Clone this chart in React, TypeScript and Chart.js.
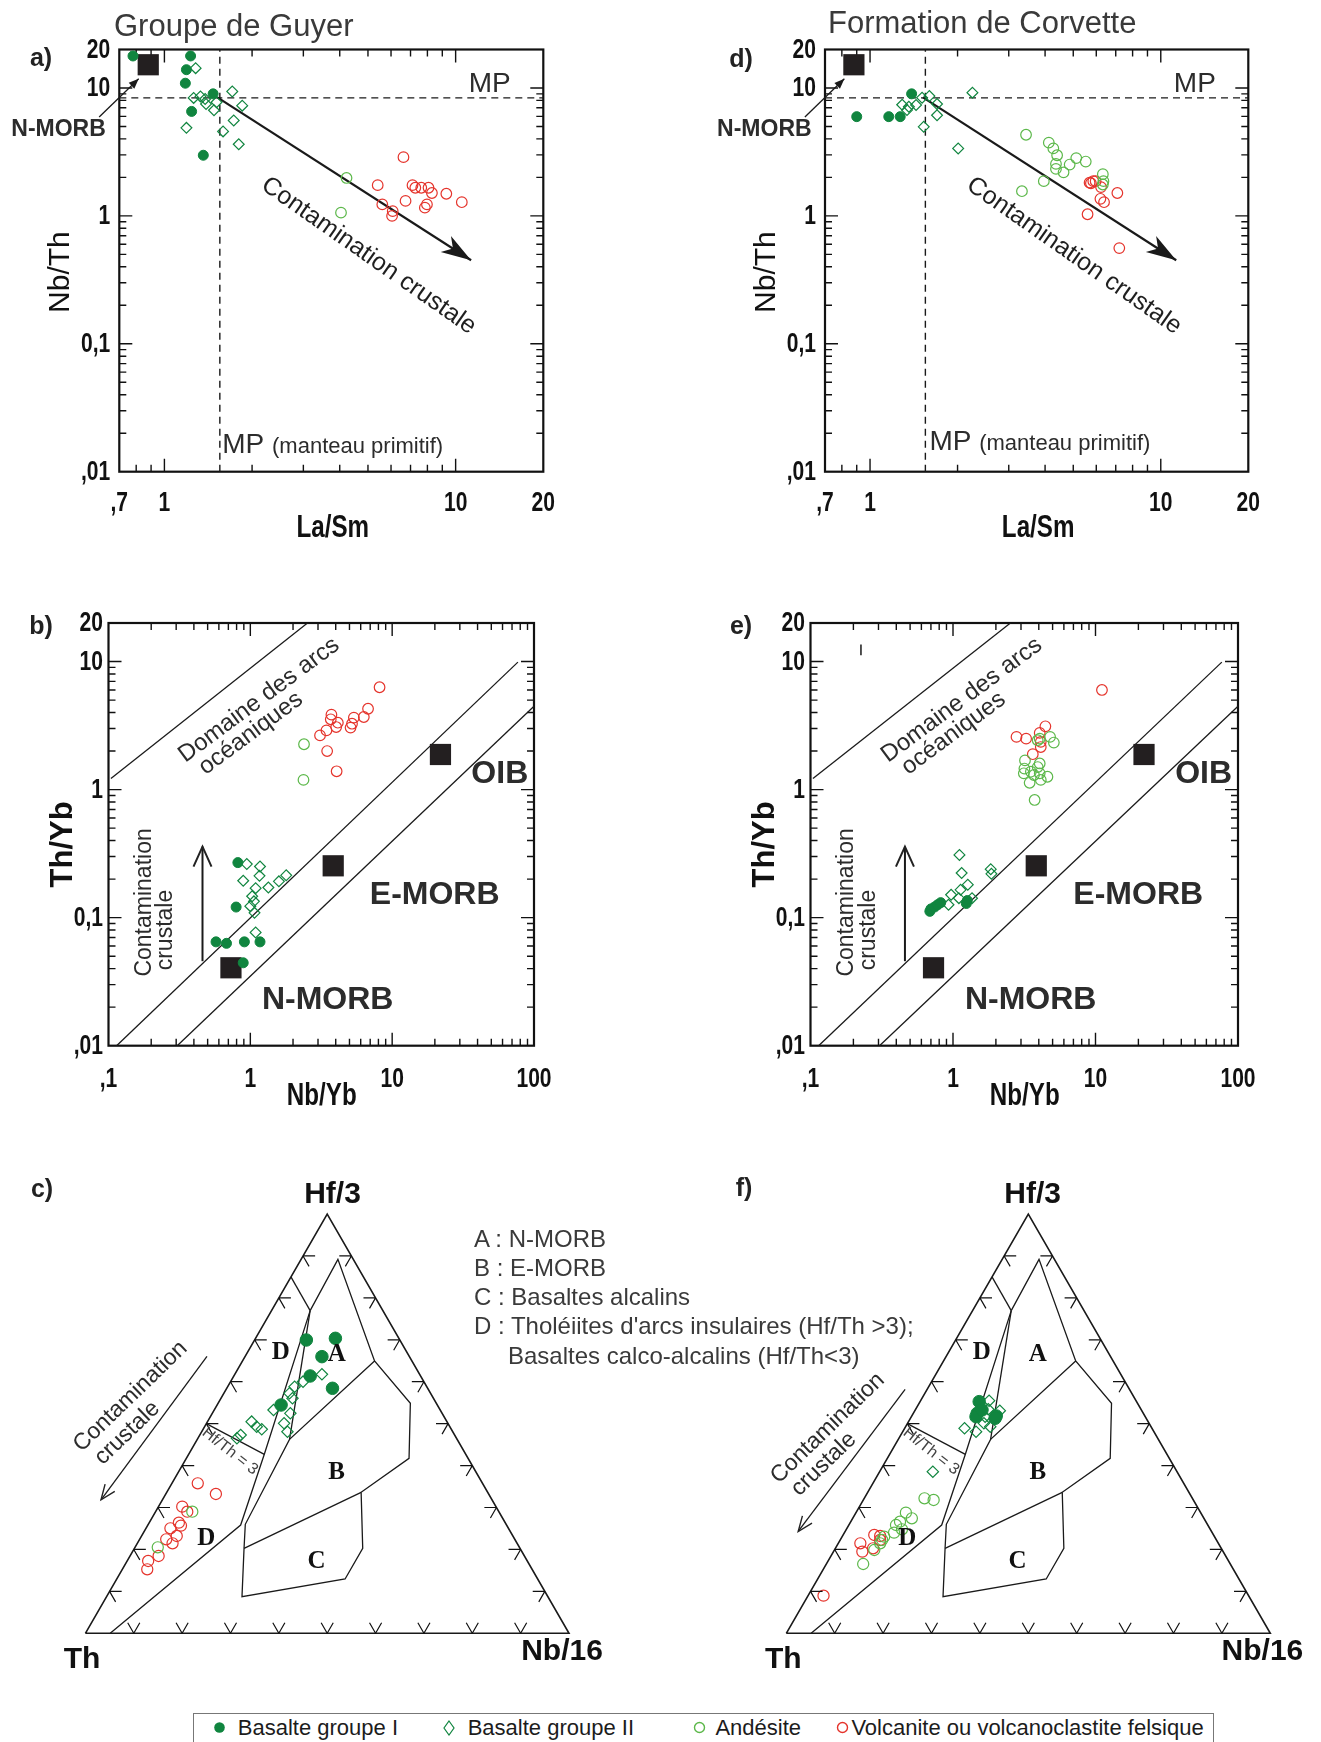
import React, { useEffect, useRef } from 'react';
import { Chart, registerables } from 'chart.js';

Chart.register(...registerables);

type P = [number, number];

const FONT = '"Liberation Sans", Arial, Helvetica, sans-serif';
const SERIF = '"Liberation Serif", "Times New Roman", serif';

const GREEN_DARK = '#10853f';
const GREEN_LIGHT = '#5cb84a';
const RED = '#e5342c';
const SQUARE = '#231f20';
const INK = '#2c2c2c';

// ================= Axis ticks =================
const laSmTicks = [0.7, 1, 10, 20];
const laSmTickLabels = [',7', '1', '10', '20'];
const ratioTicks = [0.01, 0.1, 1, 10, 20];
const ratioTickLabels = [',01', '0,1', '1', '10', '20'];
const nbYbTicks = [0.1, 1, 10, 100];
const nbYbTickLabels = [',1', '1', '10', '100'];

// ================= Reference compositions / guide lines =================
const primitiveMantleLaSm = 1.55;
const primitiveMantleNbTh = 8.37;
const nmorbLaSmNbTh: P[] = [[0.88, 15.2]];
const mantleArrayRefs: P[] = [[0.73, 0.0406], [3.84, 0.254], [21.9, 1.88]]; // N-MORB, E-MORB, OIB
const arcDomainLine: P[] = [[0.104, 1.22], [2.53, 20]];
const morbOibUpperLine: P[] = [[0.114, 0.01], [77, 9.9]];
const morbOibLowerLine: P[] = [[0.305, 0.01], [100, 4.47]];
const laSmContamArrow: P[] = [[1.52, 8.45], [11.3, 0.45]];
const nbYbContamArrow: P[] = [[0.46, 0.0457], [0.46, 0.359]];
const nmorbPointer: P[] = [[0.597, 5.94], [0.816, 11.8]];
const strayMarkE: P[] = [[0.226, 13.6], [0.226, 11.2]];

// ================= a) Groupe de Guyer : La/Sm vs Nb/Th =================
const guyerLaSmNbThG1: P[] = [[0.78, 17.8], [1.23, 17.8], [1.19, 13.9], [1.18, 10.9], [1.47, 9.0], [1.24, 6.56], [1.36, 2.98]];
const guyerLaSmNbThG2: P[] = [[1.28, 14.3], [1.71, 9.4], [1.26, 8.37], [1.33, 8.6], [1.39, 7.5], [1.38, 8.2], [1.48, 6.7], [1.51, 7.74], [1.85, 7.28], [1.73, 5.58], [1.19, 4.88], [1.59, 4.58], [1.8, 3.63]];
const guyerLaSmNbThAnd: P[] = [[4.22, 1.98], [4.04, 1.06]];
const guyerLaSmNbThFel: P[] = [[6.62, 2.88], [5.4, 1.74], [5.6, 1.23], [6.08, 1.09], [6.05, 1.0], [6.73, 1.31], [7.11, 1.74], [7.27, 1.66], [7.62, 1.66], [8.07, 1.66], [8.29, 1.51], [7.97, 1.23], [7.84, 1.16], [9.29, 1.49], [10.5, 1.28]];

// ================= d) Formation de Corvette : La/Sm vs Nb/Th =================
const corvLaSmNbThG1: P[] = [[0.9, 5.97], [1.16, 5.97], [1.27, 5.97], [1.39, 9.0]];
const corvLaSmNbThG2: P[] = [[2.25, 9.2], [1.51, 8.4], [1.6, 8.65], [1.29, 7.4], [1.36, 7.14], [1.34, 6.72], [1.44, 7.36], [1.7, 7.5], [1.7, 6.12], [1.53, 4.97], [2.01, 3.37]];
const corvLaSmNbThAnd: P[] = [[3.44, 4.31], [4.12, 3.74], [4.27, 3.37], [4.4, 2.98], [4.36, 2.55], [4.36, 2.33], [4.63, 2.19], [4.86, 2.52], [5.12, 2.83], [5.52, 2.66], [3.96, 1.87], [3.33, 1.56], [6.32, 2.12], [6.35, 1.87], [6.32, 1.76]];
const corvLaSmNbThFel: P[] = [[5.69, 1.82], [5.86, 1.87], [5.97, 1.87], [5.75, 1.8], [6.23, 1.68], [6.2, 1.36], [6.38, 1.28], [7.09, 1.51], [5.6, 1.03], [7.2, 0.56]];

// ================= b) Groupe de Guyer : Nb/Yb vs Th/Yb =================
const guyerNbYbThYbG1: P[] = [[0.817, 0.269], [0.794, 0.121], [0.573, 0.0647], [0.679, 0.063], [0.908, 0.0647], [1.17, 0.0647], [0.891, 0.0444]];
const guyerNbYbThYbG2: P[] = [[0.944, 0.262], [1.17, 0.251], [0.891, 0.194], [1.16, 0.212], [1.09, 0.17], [1.34, 0.172], [1.59, 0.192], [1.79, 0.214], [1.03, 0.147], [1.06, 0.134], [1.0, 0.123], [1.07, 0.109], [1.09, 0.0767]];
const guyerNbYbThYbAnd: P[] = [[2.39, 2.26], [2.37, 1.19]];
const guyerNbYbThYbFel: P[] = [[8.15, 6.3], [6.76, 4.28], [6.31, 3.69], [5.37, 3.65], [5.21, 3.27], [5.09, 3.05], [3.73, 3.85], [3.69, 3.54], [4.14, 3.33], [4.03, 3.08], [3.44, 2.9], [3.1, 2.65], [3.48, 2.0], [4.06, 1.39]];

// ================= e) Formation de Corvette : Nb/Yb vs Th/Yb =================
const corvNbYbThYbG1: P[] = [[0.688, 0.112], [0.7, 0.117], [0.742, 0.121], [0.78, 0.126], [0.82, 0.131], [1.26, 0.136], [1.24, 0.129]];
const corvNbYbThYbG2: P[] = [[1.11, 0.309], [1.15, 0.223], [1.27, 0.181], [1.84, 0.239], [1.86, 0.22], [0.97, 0.151], [0.93, 0.126], [1.13, 0.165], [1.36, 0.142], [1.1, 0.142]];
const corvNbYbThYbAnd: P[] = [[4.8, 2.58], [5.1, 2.33], [4.06, 2.5], [4.06, 1.6], [3.2, 1.69], [3.17, 1.46], [3.14, 1.34], [3.52, 1.38], [3.7, 1.3], [3.93, 1.5], [4.06, 1.34], [4.6, 1.26], [4.13, 1.19], [3.45, 1.13], [3.74, 0.83], [3.93, 2.43]];
const corvNbYbThYbFel: P[] = [[11.1, 6.0], [2.79, 2.58], [3.26, 2.5], [4.45, 3.12], [4.06, 2.77], [4.13, 2.36], [4.13, 2.15], [3.63, 1.89]];

// ================= Ternary Th - Hf/3 - Nb/16 : entries are [Hf/3, Nb/16] fractions =================
const ternTickFractions = [0.1, 0.2, 0.3, 0.4, 0.5, 0.6, 0.7, 0.8, 0.9];
const ternTriangle: P[] = [[0, 0], [0, 1], [1, 0], [0, 0]];
const ternFieldOutline: P[] = [[0.7695, 0.08], [0.8919, 0.0762], [0.6494, 0.2732], [0.5485, 0.3977], [0.4173, 0.4606], [0.3363, 0.402], [0.2027, 0.4721], [0.1296, 0.4722], [0.0874, 0.2801], [0.2027, 0.2267], [0.2599, 0.2007], [0.4626, 0.1908], [0.6494, 0.2732]];
const ternTopLeftLine: P[] = [[0.85, 0], [0.7695, 0.08]];
const ternALeftLine: P[] = [[0.7695, 0.08], [0.4626, 0.1908]];
const ternDLine: P[] = [[0.7695, 0.08], [0.4269, 0.1565], [0.2583, 0.1919], [0, 0.0513]];
const ternBCLine: P[] = [[0.3363, 0.402], [0.2027, 0.2267]];
const ternHfTh3Line: P[] = [[0.5, 0], [0.4269, 0.1565]];

const guyerTernG1: P[] = [[0.6995, 0.1071], [0.7035, 0.1652], [0.6598, 0.1592], [0.6137, 0.158], [0.5843, 0.2188], [0.5445, 0.1324]];
const guyerTernG2: P[] = [[0.6176, 0.1803], [0.6002, 0.1499], [0.5882, 0.1385], [0.5723, 0.1359], [0.5604, 0.148], [0.5326, 0.1227], [0.5246, 0.1615], [0.5048, 0.0914], [0.5008, 0.1604], [0.4928, 0.1078], [0.4865, 0.1214], [0.4809, 0.1774], [0.473, 0.0846], [0.465, 0.0808]];
const guyerTernAnd: P[] = [[0.2901, 0.076], [0.2051, 0.0471]];
const guyerTernFel: P[] = [[0.3577, 0.0535], [0.3323, 0.1037], [0.3021, 0.0492], [0.2901, 0.0656], [0.2639, 0.0613], [0.2568, 0.0692], [0.2504, 0.0506], [0.2321, 0.0728], [0.2242, 0.055], [0.2146, 0.0729], [0.1844, 0.0592], [0.1725, 0.0435], [0.1526, 0.0516]];

const corvTernG1: P[] = [[0.5525, 0.1223], [0.5246, 0.1321], [0.5167, 0.1336], [0.5326, 0.138], [0.5183, 0.1746], [0.5127, 0.175]];
const corvTernG2: P[] = [[0.5548, 0.1416], [0.5342, 0.1502], [0.531, 0.1756], [0.5167, 0.1525], [0.5008, 0.1579], [0.4928, 0.175], [0.4889, 0.1238], [0.4809, 0.1516], [0.3855, 0.11]];
const corvTernAnd: P[] = [[0.3219, 0.1246], [0.318, 0.1454], [0.2878, 0.1032], [0.2742, 0.1223], [0.2663, 0.1018], [0.2583, 0.0975], [0.248, 0.115], [0.2401, 0.1026], [0.2305, 0.0869], [0.2146, 0.0866], [0.1987, 0.0824], [0.1653, 0.0762], [0.2226, 0.0867]];
const corvTernFel: P[] = [[0.2345, 0.0645], [0.2321, 0.0779], [0.2146, 0.0457], [0.1948, 0.0597], [0.2027, 0.0779], [0.2226, 0.0826], [0.0898, 0.032]];

// contamination arrows in ternary plot (plot x, y) coordinates
const guyerTernArrow: P[] = [[0.2514, 0.572], [0.0323, 0.2757]];
const corvTernArrow: P[] = [[0.2455, 0.504], [0.0246, 0.2103]];

// ================= helpers =================
const SQ = Math.sqrt(3) / 2;
const pts = (arr: P[]) => arr.map(([x, y]) => ({ x, y }));
const toXY = (arr: P[]): P[] => arr.map(([hf, nb]) => [nb + hf / 2, hf * SQ]);

const MARKERS: any = {
  g1: { style: 'circle', r: 5, fill: GREEN_DARK, stroke: GREEN_DARK, bw: 1 },
  g2: { style: 'rectRot', r: 5.4, fill: 'rgba(0,0,0,0)', stroke: GREEN_DARK, bw: 1.2 },
  and: { style: 'circle', r: 5.3, fill: 'rgba(0,0,0,0)', stroke: GREEN_LIGHT, bw: 1.2 },
  fel: { style: 'circle', r: 5.3, fill: 'rgba(0,0,0,0)', stroke: RED, bw: 1.2 },
  ref: { style: 'rect', r: 15, fill: SQUARE, stroke: SQUARE, bw: 0 },
};

function markerSet(arr: P[], kind: string, rScale = 1) {
  const s = MARKERS[kind];
  return {
    data: pts(arr), showLine: false, clip: false,
    pointStyle: s.style, pointRadius: s.r * rScale, pointHoverRadius: s.r * rScale,
    pointBackgroundColor: s.fill, pointBorderColor: s.stroke, pointBorderWidth: s.bw,
    backgroundColor: s.fill, borderColor: s.stroke,
  };
}

function lineSet(arr: P[], width = 1.3, dash: number[] = [], color = '#1a1a1a') {
  return {
    data: pts(arr), showLine: true, clip: false, pointRadius: 0, pointHoverRadius: 0,
    borderColor: color, backgroundColor: color, borderWidth: width, borderDash: dash, fill: false, tension: 0,
  };
}

function mkAt(chart: any) {
  const xs = chart.scales.x, ys = chart.scales.y;
  return (p: P): P => [xs.getPixelForValue(p[0]), ys.getPixelForValue(p[1])];
}

function text(ctx: any, s: string, p: P, font: string, o: any = {}) {
  ctx.save();
  ctx.translate(p[0], p[1]);
  if (o.rot) ctx.rotate((o.rot * Math.PI) / 180);
  if (o.sx) ctx.scale(o.sx, 1);
  ctx.font = font;
  ctx.fillStyle = o.color || INK;
  ctx.textAlign = o.align || 'center';
  ctx.textBaseline = o.baseline || 'middle';
  ctx.fillText(s, 0, 0);
  ctx.restore();
}

function arrowHead(ctx: any, from: P, to: P, len: number, half: number, style: string, color: string, lw = 1.5) {
  const ang = Math.atan2(to[1] - from[1], to[0] - from[0]);
  const ux = Math.cos(ang), uy = Math.sin(ang);
  const bx = to[0] - ux * len, by = to[1] - uy * len;
  const lx = bx - uy * half, ly = by + ux * half;
  const rx = bx + uy * half, ry = by - ux * half;
  ctx.save();
  ctx.fillStyle = color; ctx.strokeStyle = color; ctx.lineWidth = lw; ctx.lineJoin = 'miter';
  ctx.beginPath();
  if (style === 'open') {
    ctx.moveTo(lx, ly); ctx.lineTo(to[0], to[1]); ctx.lineTo(rx, ry); ctx.stroke();
  } else {
    ctx.moveTo(to[0], to[1]); ctx.lineTo(lx, ly);
    if (style === 'stealth') ctx.lineTo(to[0] - ux * len * 0.72, to[1] - uy * len * 0.72);
    ctx.lineTo(rx, ry); ctx.closePath(); ctx.fill();
  }
  ctx.restore();
}

function logDecades(min: number, max: number) {
  const out: { v: number; major: boolean }[] = [];
  for (let e = Math.floor(Math.log10(min)) - 1; e <= Math.ceil(Math.log10(max)); e++) {
    for (let m = 1; m < 10; m++) {
      const v = m * Math.pow(10, e);
      if (v > min * 1.001 && v < max * 0.999) out.push({ v, major: m === 1 });
    }
  }
  return out;
}

const TICK_FONT = `bold 27px ${FONT}`;
const COND = 0.78;

function logFrame(chart: any, s: any) {
  const { ctx, chartArea: a } = chart;
  const xs = chart.scales.x, ys = chart.scales.y;
  ctx.save();
  ctx.strokeStyle = '#111';
  ctx.lineWidth = 1.4;
  ctx.beginPath();
  for (const t of logDecades(xs.min, xs.max)) {
    const p = xs.getPixelForValue(t.v); const L = t.major ? 13 : 7;
    ctx.moveTo(p, a.bottom); ctx.lineTo(p, a.bottom - L);
    ctx.moveTo(p, a.top); ctx.lineTo(p, a.top + L);
  }
  for (const t of logDecades(ys.min, ys.max)) {
    const p = ys.getPixelForValue(t.v); const L = t.major ? 13 : 7;
    ctx.moveTo(a.left, p); ctx.lineTo(a.left + L, p);
    ctx.moveTo(a.right, p); ctx.lineTo(a.right - L, p);
  }
  ctx.stroke();
  ctx.lineWidth = 2.2;
  ctx.strokeRect(a.left, a.top, a.right - a.left, a.bottom - a.top);
  ctx.restore();
  // tick labels, positioned by the library's scales
  s.x.ticks.forEach((v: number, i: number) =>
    text(ctx, s.x.labels[i], [xs.getPixelForValue(v), a.bottom + s.x.off], TICK_FONT, { sx: COND, color: '#111' }));
  s.y.ticks.forEach((v: number, i: number) =>
    text(ctx, s.y.labels[i], [a.left - s.y.pad, ys.getPixelForValue(v) + 1], TICK_FONT, { sx: COND, align: 'right', color: '#111' }));
}

// ================= Log panel config =================
function logConfig(s: any) {
  const yW = s.area.left - s.canvas.left;
  const xH = s.canvas.top + s.canvas.height - s.area.bottom;
  return {
    type: 'scatter',
    data: { datasets: s.datasets },
    options: {
      responsive: false, maintainAspectRatio: false, animation: false, devicePixelRatio: 1, events: [],
      layout: { padding: { left: 0, bottom: 0, top: s.area.top - s.canvas.top, right: s.canvas.left + s.canvas.width - s.area.right } },
      plugins: { legend: { display: false }, tooltip: { enabled: false }, title: { display: false } },
      scales: {
        x: {
          type: 'logarithmic', position: 'bottom', min: s.x.min, max: s.x.max, bounds: 'data',
          grid: { display: false, drawTicks: false }, border: { display: false },
          afterBuildTicks: (sc: any) => { sc.ticks = s.x.ticks.map((v: number) => ({ value: v })); },
          afterFit: (sc: any) => { sc.height = xH; },
          ticks: { display: false },
        },
        y: {
          type: 'logarithmic', position: 'left', min: s.y.min, max: s.y.max, bounds: 'data',
          grid: { display: false, drawTicks: false }, border: { display: false },
          afterBuildTicks: (sc: any) => { sc.ticks = s.y.ticks.map((v: number) => ({ value: v })); },
          afterFit: (sc: any) => { sc.width = yW; },
          ticks: { display: false },
        },
      },
    },
    plugins: [{ id: 'deco', beforeDatasetsDraw: (c: any) => logFrame(c, s), afterDatasetsDraw: (c: any) => s.deco(c) }],
  };
}

function laSmDeco(mpBottom: P) {
  return (chart: any) => {
    const { ctx, chartArea: a } = chart;
    const at = mkAt(chart);
    const [cs, ce] = laSmContamArrow.map((p) => at(p));
    arrowHead(ctx, cs, ce, 30, 9.5, 'stealth', '#1a1a1a');
    const [ps, pe] = nmorbPointer.map((p) => at(p));
    arrowHead(ctx, ps, pe, 10, 4, 'filled', '#1a1a1a');
    text(ctx, 'MP', at([13.1, 10.6]), `28px ${FONT}`);
    const mb = at(mpBottom);
    text(ctx, 'MP', mb, `28px ${FONT}`, { align: 'left', baseline: 'alphabetic' });
    ctx.save(); ctx.font = `28px ${FONT}`; const w = ctx.measureText('MP ').width; ctx.restore();
    text(ctx, '(manteau primitif)', [mb[0] + w, mb[1]], `22px ${FONT}`, { align: 'left', baseline: 'alphabetic' });
    text(ctx, 'N-MORB', at([0.433, 4.7]), `bold 23px ${FONT}`);
    text(ctx, 'Contamination crustale', at([5.03, 0.487]), `25px ${FONT}`, { rot: 35, color: '#1f1f1f' });
    text(ctx, 'La/Sm', [(a.left + a.right) / 2 + 1.5, a.bottom + 57], `bold 31px ${FONT}`, { color: '#111', sx: 0.78 });
    text(ctx, 'Nb/Th', [a.left - 58.3, (a.top + a.bottom) / 2 + 11.5], `30px ${FONT}`, { rot: -90, color: '#111' });
  };
}

function nbYbDeco(chart: any) {
  const { ctx, chartArea: a } = chart;
  const at = mkAt(chart);
  const [s, e] = nbYbContamArrow.map((p) => at(p));
  arrowHead(ctx, s, e, 20, 9, 'open', '#222', 2);
  text(ctx, 'Contamination', at([0.18, 0.1315]), `23px ${FONT}`, { rot: -90 });
  text(ctx, 'crustale', at([0.2545, 0.08]), `23px ${FONT}`, { rot: -90 });
  text(ctx, 'Domaine des arcs', at([1.152, 5.0]), `24px ${FONT}`, { rot: -36.5 });
  text(ctx, 'océaniques', at([1.01, 2.75]), `24px ${FONT}`, { rot: -36.5 });
  text(ctx, 'OIB', at([57.4, 1.31]), `bold 32px ${FONT}`);
  text(ctx, 'E-MORB', at([19.95, 0.151]), `bold 32px ${FONT}`);
  text(ctx, 'N-MORB', at([3.51, 0.0227]), `bold 32px ${FONT}`);
  text(ctx, 'Nb/Yb', [(a.left + a.right) / 2 + 0.5, a.bottom + 51], `bold 31px ${FONT}`, { color: '#111', sx: 0.78 });
  text(ctx, 'Th/Yb', [a.left - 45, (a.top + a.bottom) / 2 + 10], `bold 31px ${FONT}`, { rot: -90, color: '#111' });
}

function laSmDatasets(g1: P[], g2: P[], and: P[], fel: P[]) {
  return [
    markerSet(g1, 'g1'), markerSet(g2, 'g2'), markerSet(and, 'and'), markerSet(fel, 'fel'),
    markerSet(nmorbLaSmNbTh, 'ref'),
    lineSet(laSmContamArrow, 2.2),
    lineSet(nmorbPointer, 1.3),
    lineSet([[0.7, primitiveMantleNbTh], [20, primitiveMantleNbTh]], 1.4, [7, 5]),
    lineSet([[primitiveMantleLaSm, 0.01], [primitiveMantleLaSm, 20]], 1.4, [7, 5]),
  ];
}

function nbYbDatasets(g1: P[], g2: P[], and: P[], fel: P[], extra: any[] = []) {
  return [
    markerSet(g1, 'g1'), markerSet(g2, 'g2'), markerSet(and, 'and'), markerSet(fel, 'fel'),
    markerSet(mantleArrayRefs, 'ref'),
    lineSet(arcDomainLine, 1.3), lineSet(morbOibUpperLine, 1.3), lineSet(morbOibLowerLine, 1.3),
    lineSet(nbYbContamArrow, 2),
    ...extra,
  ];
}

const panelA = {
  canvas: { left: 0, top: 0, width: 660, height: 575 },
  area: { left: 119.3, top: 49.5, right: 543.3, bottom: 471.7 },
  x: { min: 0.7, max: 20, ticks: laSmTicks, labels: laSmTickLabels, off: 32 },
  y: { min: 0.01, max: 20, ticks: ratioTicks, labels: ratioTickLabels, pad: 9 },
  datasets: laSmDatasets(guyerLaSmNbThG1, guyerLaSmNbThG2, guyerLaSmNbThAnd, guyerLaSmNbThFel),
  deco: laSmDeco([1.58, 0.0141]),
};
const panelD = {
  canvas: { left: 660, top: 0, width: 661, height: 575 },
  area: { left: 825, top: 49.5, right: 1248.3, bottom: 471.7 },
  x: { min: 0.7, max: 20, ticks: laSmTicks, labels: laSmTickLabels, off: 32 },
  y: { min: 0.01, max: 20, ticks: ratioTicks, labels: ratioTickLabels, pad: 9 },
  datasets: laSmDatasets(corvLaSmNbThG1, corvLaSmNbThG2, corvLaSmNbThAnd, corvLaSmNbThFel),
  deco: laSmDeco([1.6, 0.0149]),
};
const panelB = {
  canvas: { left: 0, top: 575, width: 660, height: 560 },
  area: { left: 108.5, top: 623, right: 534, bottom: 1045.7 },
  x: { min: 0.1, max: 100, ticks: nbYbTicks, labels: nbYbTickLabels, off: 34 },
  y: { min: 0.01, max: 20, ticks: ratioTicks, labels: ratioTickLabels, pad: 5.5 },
  datasets: nbYbDatasets(guyerNbYbThYbG1, guyerNbYbThYbG2, guyerNbYbThYbAnd, guyerNbYbThYbFel),
  deco: nbYbDeco,
};
const panelE = {
  canvas: { left: 660, top: 575, width: 661, height: 560 },
  area: { left: 810.5, top: 623, right: 1238, bottom: 1045.7 },
  x: { min: 0.1, max: 100, ticks: nbYbTicks, labels: nbYbTickLabels, off: 34 },
  y: { min: 0.01, max: 20, ticks: ratioTicks, labels: ratioTickLabels, pad: 5.5 },
  datasets: nbYbDatasets(corvNbYbThYbG1, corvNbYbThYbG2, corvNbYbThYbAnd, corvNbYbThYbFel, [lineSet(strayMarkE, 1.5)]),
  deco: nbYbDeco,
};

// ================= Ternary panel config =================
function ternDeco(t: any) {
  return (chart: any) => {
    const ctx = chart.ctx;
    const at = mkAt(chart);
    const L = 0.025;
    ctx.save();
    ctx.strokeStyle = '#111'; ctx.lineWidth = 1.2; ctx.beginPath();
    const seg = (p: P, d: P) => {
      const a = at(p); const b = at([p[0] + d[0] * L, p[1] + d[1] * L]);
      ctx.moveTo(a[0], a[1]); ctx.lineTo(b[0], b[1]);
    };
    for (const f of ternTickFractions) {
      const left: P = [0.5 * f, SQ * f], right: P = [1 - 0.5 * f, SQ * f], bottom: P = [f, 0];
      seg(left, [1, 0]); seg(left, [0.5, -SQ]);
      seg(right, [-1, 0]); seg(right, [-0.5, -SQ]);
      seg(bottom, [-0.5, SQ]); seg(bottom, [0.5, SQ]);
    }
    ctx.stroke(); ctx.restore();
    const [s, e] = t.arrow.map((p: P) => at(p));
    arrowHead(ctx, s, e, 15, 6, 'open', '#222', 1.4);
    text(ctx, 'Hf/3', at(t.hfLabel), `bold 30px ${FONT}`, { color: '#111' });
    text(ctx, 'Th', at(t.thLabel), `bold 30px ${FONT}`, { color: '#111' });
    text(ctx, 'Nb/16', at(t.nbLabel), `bold 30px ${FONT}`, { color: '#111' });
    const lf = `bold 25px ${SERIF}`;
    text(ctx, 'D', at([0.404, 0.5803]), lf, { color: '#111' });
    text(ctx, 'A', at([0.5196, 0.5756]), lf, { color: '#111' });
    text(ctx, 'B', at([0.5196, 0.3322]), lf, { color: '#111' });
    text(ctx, 'C', at([0.4779, 0.1485]), lf, { color: '#111' });
    text(ctx, 'D', at([0.2498, 0.1961]), lf, { color: '#111' });
    text(ctx, 'Hf/Th = 3', at([0.299, 0.376]), `16px ${FONT}`, { rot: 38, color: '#444' });
    text(ctx, 'Contamination', at(t.contamText), `23px ${FONT}`, { rot: -44 });
    text(ctx, 'crustale', at(t.crustText), `23px ${FONT}`, { rot: -44 });
  };
}

function ternDatasets(g1: P[], g2: P[], and: P[], fel: P[], arrow: P[]) {
  return [
    markerSet(toXY(g1), 'g1', 1.25), markerSet(toXY(g2), 'g2', 1.05), markerSet(toXY(and), 'and', 1.05), markerSet(toXY(fel), 'fel', 1.05),
    lineSet(toXY(ternTriangle), 1.6),
    lineSet(toXY(ternFieldOutline), 1.3),
    lineSet(toXY(ternTopLeftLine), 1.3),
    lineSet(toXY(ternALeftLine), 1.3),
    lineSet(toXY(ternDLine), 1.3),
    lineSet(toXY(ternBCLine), 1.3),
    lineSet(toXY(ternHfTh3Line), 1.3),
    lineSet(arrow, 1.3),
  ];
}

function ternConfig(t: any) {
  const pad = {
    left: t.area.left - t.canvas.left,
    right: t.canvas.left + t.canvas.width - t.area.right,
    top: t.area.top - t.canvas.top,
    bottom: t.canvas.top + t.canvas.height - t.area.bottom,
  };
  return {
    type: 'scatter',
    data: { datasets: t.datasets },
    options: {
      responsive: false, maintainAspectRatio: false, animation: false, devicePixelRatio: 1, events: [],
      layout: { padding: pad },
      plugins: { legend: { display: false }, tooltip: { enabled: false } },
      scales: {
        x: { type: 'linear', display: false, min: 0, max: 1 },
        y: { type: 'linear', display: false, min: 0, max: SQ },
      },
    },
    plugins: [{ id: 'terndeco', afterDatasetsDraw: (c: any) => t.deco(c) }],
  };
}

const panelC = {
  canvas: { left: 0, top: 1130, width: 660, height: 580 },
  area: { left: 85.4, top: 1214, right: 569, bottom: 1633.3 },
  datasets: ternDatasets(guyerTernG1, guyerTernG2, guyerTernAnd, guyerTernFel, guyerTernArrow),
  deco: ternDeco({ arrow: guyerTernArrow, hfLabel: [0.511, 0.906], thLabel: [-0.007, -0.055], nbLabel: [0.9856, -0.038], contamText: [0.0933, 0.489], crustText: [0.0868, 0.4136] }),
};
const panelF = {
  canvas: { left: 660, top: 1130, width: 661, height: 580 },
  area: { left: 786.3, top: 1214, right: 1270.3, bottom: 1633.3 },
  datasets: ternDatasets(corvTernG1, corvTernG2, corvTernAnd, corvTernFel, corvTernArrow),
  deco: ternDeco({ arrow: corvTernArrow, hfLabel: [0.509, 0.906], thLabel: [-0.0064, -0.055], nbLabel: [0.9837, -0.038], contamText: [0.0855, 0.4236], crustText: [0.0775, 0.3494] }),
};

// ================= React =================
function ChartCanvas({ rect, make }: any) {
  const ref = useRef<HTMLCanvasElement>(null);
  useEffect(() => {
    const chart = new Chart(ref.current as any, make() as any);
    return () => chart.destroy();
  }, []);
  return (
    <canvas ref={ref} width={rect.width} height={rect.height}
      style={{ position: 'absolute', left: rect.left, top: rect.top, width: rect.width, height: rect.height }} />
  );
}

function Txt({ x, y, children, size, weight = 'normal', family = FONT, color = INK, anchor = 'center' }: any) {
  const tx = anchor === 'center' ? '-50%' : anchor === 'right' ? '-100%' : '0';
  return (
    <div style={{ position: 'absolute', left: x, top: y, transform: `translate(${tx}, -50%)`, fontSize: size, fontWeight: weight,
      fontFamily: family, color, lineHeight: 1, whiteSpace: 'nowrap' }}>{children}</div>
  );
}

function BottomLegend() {
  const cy = 1727.7;
  return (
    <>
      <div style={{ position: 'absolute', left: 193, top: 1713, width: 1021, height: 40, border: '1px solid #777', boxSizing: 'border-box' }} />
      <svg style={{ position: 'absolute', left: 213, top: cy - 6.5 }} width={13} height={13}>
        <circle cx={6.5} cy={6.5} r={5.3} fill={GREEN_DARK} />
      </svg>
      <Txt x={237.8} y={cy} size={22} anchor="left" color="#1c1c1c">Basalte groupe I</Txt>
      <svg style={{ position: 'absolute', left: 443.3, top: cy - 8 }} width={12} height={16}>
        <polygon points="6,1 11,8 6,15 1,8" fill="none" stroke={GREEN_DARK} strokeWidth={1.2} />
      </svg>
      <Txt x={467.7} y={cy} size={22} anchor="left" color="#1c1c1c">Basalte groupe II</Txt>
      <svg style={{ position: 'absolute', left: 692.5, top: cy - 6.5 }} width={13} height={13}>
        <circle cx={6.5} cy={6.5} r={5} fill="none" stroke={GREEN_LIGHT} strokeWidth={1.4} />
      </svg>
      <Txt x={715.4} y={cy} size={22} anchor="left" color="#1c1c1c">Andésite</Txt>
      <svg style={{ position: 'absolute', left: 835.5, top: cy - 6.5 }} width={13} height={13}>
        <circle cx={6.5} cy={6.5} r={5} fill="none" stroke={RED} strokeWidth={1.4} />
      </svg>
      <Txt x={851.4} y={cy} size={22} anchor="left" color="#1c1c1c">Volcanite ou volcanoclastite felsique</Txt>
    </>
  );
}

export default function App() {
  return (
    <div style={{ position: 'absolute', left: 0, top: 0, width: 1321, height: 1742, overflow: 'hidden', background: '#fff' }}>
      <ChartCanvas rect={panelA.canvas} make={() => logConfig(panelA)} />
      <ChartCanvas rect={panelD.canvas} make={() => logConfig(panelD)} />
      <ChartCanvas rect={panelB.canvas} make={() => logConfig(panelB)} />
      <ChartCanvas rect={panelE.canvas} make={() => logConfig(panelE)} />
      <ChartCanvas rect={panelC.canvas} make={() => ternConfig(panelC)} />
      <ChartCanvas rect={panelF.canvas} make={() => ternConfig(panelF)} />

      <Txt x={114} y={25} size={31} anchor="left" color="#3a3a3a">Groupe de Guyer</Txt>
      <Txt x={828} y={22} size={31} anchor="left" color="#3a3a3a">Formation de Corvette</Txt>

      <Txt x={41} y={57} size={25} weight="bold" color="#222">a)</Txt>
      <Txt x={741} y={58} size={25} weight="bold" color="#222">d)</Txt>
      <Txt x={41} y={625} size={25} weight="bold" color="#222">b)</Txt>
      <Txt x={741} y={625} size={25} weight="bold" color="#222">e)</Txt>
      <Txt x={42} y={1188} size={25} weight="bold" color="#222">c)</Txt>
      <Txt x={744} y={1187} size={25} weight="bold" color="#222">f)</Txt>

      <Txt x={474} y={1239} size={24} anchor="left" color="#3a3a3a">A : N-MORB</Txt>
      <Txt x={474} y={1268} size={24} anchor="left" color="#3a3a3a">B : E-MORB</Txt>
      <Txt x={474} y={1297} size={24} anchor="left" color="#3a3a3a">C : Basaltes alcalins</Txt>
      <Txt x={474} y={1326} size={24} anchor="left" color="#3a3a3a">D : Tholéiites d'arcs insulaires (Hf/Th &gt;3);</Txt>
      <Txt x={508} y={1356} size={24} anchor="left" color="#3a3a3a">Basaltes calco-alcalins (Hf/Th&lt;3)</Txt>

      <BottomLegend />
    </div>
  );
}
